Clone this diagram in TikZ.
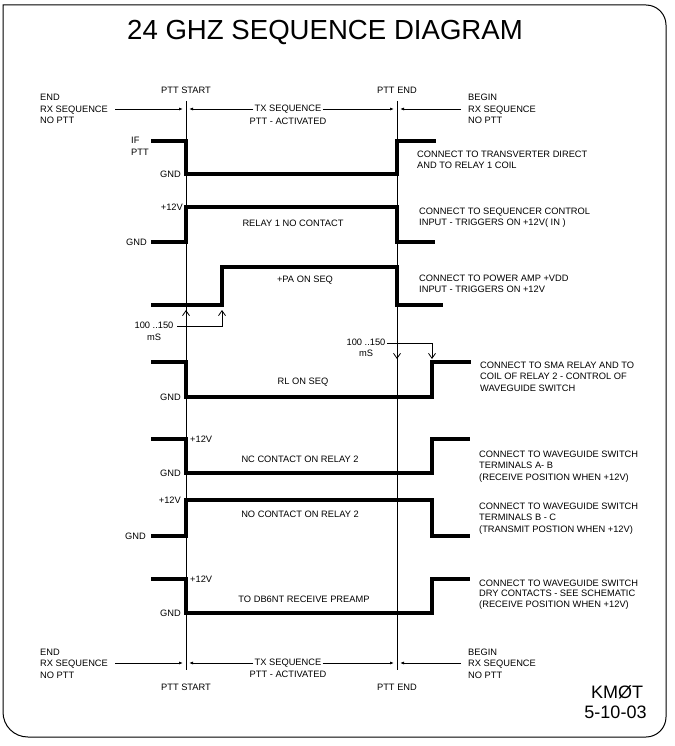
\documentclass[tikz,border=0pt]{standalone}
\usepackage{fontspec}
\setmainfont{Liberation Sans}
\usetikzlibrary{arrows.meta}
\newcommand\smtxt{\fontsize{9.3}{11.5}\selectfont}
\begin{document}
\begin{tikzpicture}[x=1pt,y=-1pt,
  sig/.style={line width=4pt, line join=miter, line cap=butt},
  thinln/.style={line width=0.8pt},
  txt/.style={inner sep=0pt, font=\smtxt, align=left},
  dimarrow/.style={thinln, -{Latex[length=4pt,width=3pt]}},
  delay/.style={thinln, -{Straight Barb[length=5pt,width=7pt]}}]
\useasboundingbox (0,0) rectangle (674,746);
% border
\draw[line width=1pt] (3,5) -- (646,5) .. controls (657,5) and (666,14) .. (666,25) -- (666,717)
  .. controls (666,728) and (657,737) .. (646,737) -- (28,737)
  .. controls (14,737) and (3,726) .. (3,712) -- cycle;
% title
\node[inner sep=0pt, font=\fontsize{27.6}{30}\selectfont] (title) at (325,32) {24 GHZ SEQUENCE DIAGRAM};
% vertical event lines
\coordinate (ps1) at (186,101); \coordinate (ps2) at (186,670);
\coordinate (pe1) at (397,101); \coordinate (pe2) at (397,670);
\draw[thinln] (ps1) -- (ps2);
\draw[thinln] (pe1) -- (pe2);
% top timeline labels
\node[txt] (pttstartT) at (186,90) {PTT START};
\node[txt] (pttendT) at (397,90) {PTT END};
\node[txt, anchor=west] (endT) at (40,109) {END\\RX SEQUENCE\\NO PTT};
\node[txt, anchor=west] (beginT) at (468,109) {BEGIN\\RX SEQUENCE\\NO PTT};
\node[txt, fill=white, inner xsep=1pt] (txT) at (288,109) {TX SEQUENCE};
\node[txt] (pttactT) at (288,121) {PTT - ACTIVATED};
\coordinate (tA) at (115,109); \coordinate (tB) at (183,109);
\coordinate (tC) at (189,109); \coordinate (tD) at (394,109);
\coordinate (tE) at (400,109); \coordinate (tF) at (461,109);
\draw[dimarrow] (tA) -- (tB);
\draw[dimarrow] (txT.west) -- (tC);
\draw[dimarrow] (txT.east) -- (tD);
\draw[dimarrow] (tF) -- (tE);
% bottom timeline labels
\node[txt] (pttstartB) at (186,687) {PTT START};
\node[txt] (pttendB) at (397,687) {PTT END};
\node[txt, anchor=west] (endB) at (40,663.5) {END\\RX SEQUENCE\\NO PTT};
\node[txt, anchor=west] (beginB) at (468,663.5) {BEGIN\\RX SEQUENCE\\NO PTT};
\node[txt, fill=white, inner xsep=1pt] (txB) at (288,663) {TX SEQUENCE};
\node[txt] (pttactB) at (288,674) {PTT - ACTIVATED};
\coordinate (bA) at (115,663); \coordinate (bB) at (183,663);
\coordinate (bC) at (189,663); \coordinate (bD) at (394,663);
\coordinate (bE) at (400,663); \coordinate (bF) at (461,663);
\draw[dimarrow] (bA) -- (bB);
\draw[dimarrow] (txB.west) -- (bC);
\draw[dimarrow] (txB.east) -- (bD);
\draw[dimarrow] (bF) -- (bE);
% signal 1: IF PTT
\draw[sig] (151,141) -- (186,141) -- (186,174) -- (397,174) -- (397,141) -- (436,141);
\node[txt, anchor=west] (ifptt) at (131,146.5) {IF\\PTT};
\node[txt, anchor=east] (gnd1) at (181,174) {GND};
\node[txt, anchor=west] (d1) at (417,160) {CONNECT TO TRANSVERTER DIRECT\\AND TO RELAY 1 COIL};
% signal 2: relay 1 NO contact
\draw[sig] (151,242) -- (186,242) -- (186,207) -- (397,207) -- (397,242) -- (435,242);
\node[txt, anchor=east] (v2) at (183,207) {+12V};
\node[txt, anchor=east] (gnd2) at (147,242) {GND};
\node[txt] (l2) at (293,223) {RELAY 1 NO CONTACT};
\node[txt, anchor=west] (d2) at (419,217.5) {CONNECT TO SEQUENCER CONTROL\\INPUT - TRIGGERS ON +12V( IN )};
% signal 3: +PA ON SEQ
\draw[sig] (151,305) -- (222,305) -- (222,267) -- (397,267) -- (397,305) -- (443,305);
\node[txt] (l3) at (305,280) {+PA ON SEQ};
\node[txt, anchor=west] (d3) at (419,284) {CONNECT TO POWER AMP +VDD\\INPUT - TRIGGERS ON +12V};
% delay 1
\node[txt, align=center] (dl1) at (154,331.5) {100 ..150\\mS};
\coordinate (dl1a) at (177,326); \coordinate (dl1b) at (222,326);
\coordinate (dl1c) at (222,310); \coordinate (dl1d) at (186,326); \coordinate (dl1e) at (186,310);
\draw[delay] (dl1a) -- (dl1b) -- (dl1c);
\draw[delay] (dl1d) -- (dl1e);
% delay 2
\node[txt, align=center] (dl2) at (366,348) {100 ..150\\mS};
\coordinate (dl2a) at (387,343); \coordinate (dl2b) at (432,343);
\coordinate (dl2c) at (432,359); \coordinate (dl2d) at (397,343); \coordinate (dl2e) at (397,359);
\draw[delay] (dl2a) -- (dl2b) -- (dl2c);
\draw[delay] (dl2d) -- (dl2e);
% signal 4: RL ON SEQ
\draw[sig] (151,362) -- (186,362) -- (186,397) -- (432,397) -- (432,362) -- (471,362);
\node[txt, anchor=east] (gnd4) at (181,397) {GND};
\node[txt] (l4) at (303,382) {RL ON SEQ};
\node[txt, anchor=west] (d4) at (480,376.5) {CONNECT TO SMA RELAY AND TO\\COIL OF RELAY 2 - CONTROL OF\\WAVEGUIDE SWITCH};
% signal 5: NC contact on relay 2
\draw[sig] (151,439) -- (186,439) -- (186,473) -- (432,473) -- (432,439) -- (470,439);
\node[txt, anchor=west] (v5) at (190,439) {+12V};
\node[txt, anchor=east] (gnd5) at (181,473) {GND};
\node[txt] (l5) at (300,459) {NC CONTACT ON RELAY 2};
\node[txt, anchor=west] (d5) at (479,466.5) {CONNECT TO WAVEGUIDE SWITCH\\TERMINALS A- B\\(RECEIVE POSITION WHEN +12V)};
% signal 6: NO contact on relay 2
\draw[sig] (151,536) -- (186,536) -- (186,500) -- (432,500) -- (432,536) -- (470,536);
\node[txt, anchor=east] (v6) at (181,500) {+12V};
\node[txt, anchor=east] (gnd6) at (146,536) {GND};
\node[txt] (l6) at (300,514) {NO CONTACT ON RELAY 2};
\node[txt, anchor=west] (d6) at (479,518.5) {CONNECT TO WAVEGUIDE SWITCH\\TERMINALS B - C\\(TRANSMIT POSTION WHEN +12V)};
% signal 7: DB6NT preamp
\draw[sig] (151,579) -- (186,579) -- (186,613) -- (432,613) -- (432,579) -- (470,579);
\node[txt, anchor=west] (v7) at (190,579) {+12V};
\node[txt, anchor=east] (gnd7) at (181,613) {GND};
\node[txt] (l7) at (304,599) {TO DB6NT RECEIVE PREAMP};
\node[txt, anchor=west, font=\fontsize{9.3}{10.5}\selectfont] (d7) at (479,594.5) {CONNECT TO WAVEGUIDE SWITCH\\DRY CONTACTS - SEE SCHEMATIC\\(RECEIVE POSITION WHEN +12V)};
% signature
\node[inner sep=0pt, font=\fontsize{18}{20}\selectfont] (sig1) at (617,692) {KMØT};
\node[inner sep=0pt, font=\fontsize{18}{20}\selectfont] (sig2) at (615.5,712) {5-10-03};
\end{tikzpicture}
\end{document}
